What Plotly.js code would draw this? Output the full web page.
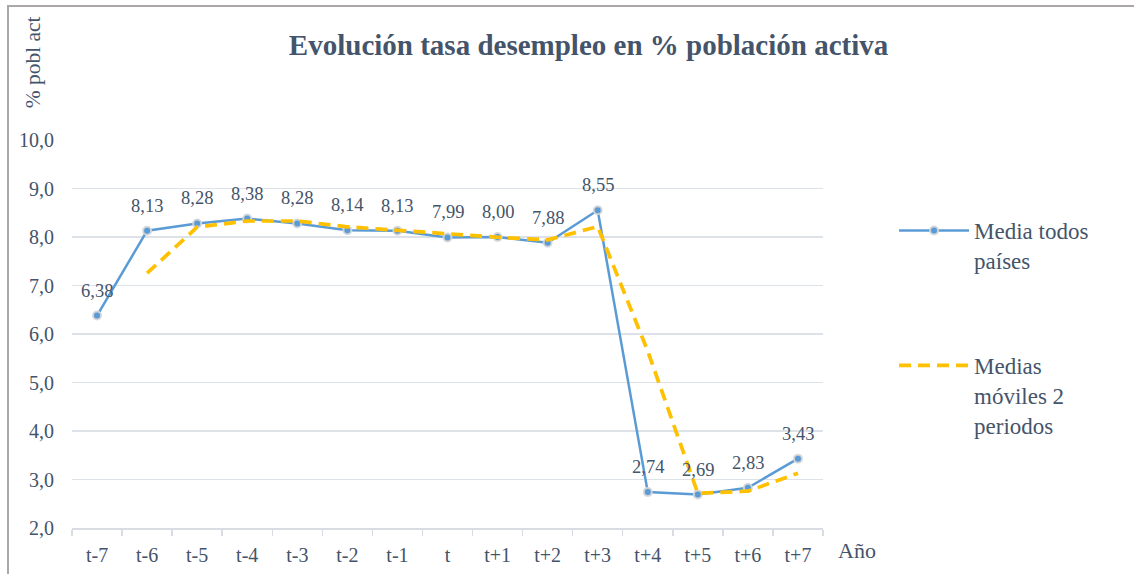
<!DOCTYPE html>
<html>
<head>
<meta charset="utf-8">
<script src="https://cdn.plot.ly/plotly-3.0.1.min.js"></script>
<style>
  html, body { margin: 0; padding: 0; background: #fff; overflow: hidden; }
  #frame { position: absolute; left: 7px; top: 5px; width: 1300px; height: 700px;
           border-left: 2px solid #aba7a7; border-top: 2px solid #aba7a7; }
  #chart { position: absolute; left: 0; top: 0; width: 1134px; height: 574px; }
</style>
</head>
<body>
<div id="frame"></div>
<div id="chart"></div>
<script>
// ---- data ----
const years = ["t-7","t-6","t-5","t-4","t-3","t-2","t-1","t","t+1","t+2","t+3","t+4","t+5","t+6","t+7"];
const mediaTodos = [6.38, 8.13, 8.28, 8.38, 8.28, 8.14, 8.13, 7.99, 8.00, 7.88, 8.55, 2.74, 2.69, 2.83, 3.43];
const mediasMovilesYears = ["t-6","t-5","t-4","t-3","t-2","t-1","t","t+1","t+2","t+3","t+4","t+5","t+6","t+7"];
const mediasMoviles = [7.255, 8.205, 8.33, 8.33, 8.21, 8.135, 8.06, 7.995, 7.94, 8.215, 5.645, 2.715, 2.76, 3.13];
const yTicks = [2, 3, 4, 5, 6, 7, 8, 9, 10];

const txtColor = '#44546a';
const fontFam = 'Liberation Serif, Times New Roman, serif';

const traces = [
  {
    x: years, y: mediaTodos, type: 'scatter', mode: 'lines+markers',
    name: 'Media todos<br>países', legendgroup: 'a',
    line: { color: '#5b9bd5', width: 2.5 },
    marker: { color: '#5b9bd5', size: 8, line: { color: 'rgba(215,215,215,0.9)', width: 2 } },
    hoverinfo: 'skip'
  },
  {
    x: mediasMovilesYears, y: mediasMoviles, type: 'scatter', mode: 'lines',
    name: 'Medias<br>móviles 2<br>periodos', legendgroup: 'b',
    line: { color: '#ffc000', width: 3.7, dash: '12px,7px' },
    hoverinfo: 'skip'
  }
];

const annotations = mediaTodos.map((v, i) => ({
  x: years[i], y: v, xref: 'x', yref: 'y',
  text: v.toFixed(2).replace('.', ','),
  showarrow: false, yshift: 25,
  font: { family: fontFam, size: 18.5, color: txtColor }
}));

annotations.push({
  xref: 'paper', yref: 'paper', x: -0.052, y: 1.2,
  text: '% pobl act', textangle: -90, showarrow: false,
  xanchor: 'center', yanchor: 'middle',
  font: { family: fontFam, size: 21.5, color: txtColor }
});
annotations.push({
  xref: 'paper', yref: 'paper', x: 1.045, y: -0.059,
  text: 'Año', showarrow: false, xanchor: 'center', yanchor: 'middle',
  font: { family: fontFam, size: 22, color: txtColor }
});

const layout = {
  width: 1134, height: 574,
  font: { family: fontFam, color: txtColor },
  paper_bgcolor: 'rgba(0,0,0,0)', plot_bgcolor: 'rgba(0,0,0,0)',
  margin: { l: 72, r: 311, t: 140, b: 46, autoexpand: false },
  title: {
    text: '<b>Evolución tasa desempleo en % población activa</b>',
    x: 0.519, xanchor: 'center', y: 0.922, yanchor: 'middle',
    font: { family: fontFam, size: 29, color: txtColor }
  },
  xaxis: {
    type: 'category', tickson: 'boundaries', range: [-0.5, 14.5], autorange: false,
    ticks: 'outside', ticklen: 6, tickcolor: '#d9dde3', tickwidth: 1.5,
    showline: true, linecolor: '#d9dde3', linewidth: 1.5,
    showgrid: false, zeroline: false, ticklabelstandoff: 8,
    tickfont: { family: fontFam, size: 20, color: txtColor },
    fixedrange: true
  },
  yaxis: {
    range: [2, 10], autorange: false, tickvals: yTicks,
    ticktext: yTicks.map(v => v.toFixed(1).replace('.', ',')),
    ticks: '', showline: false, zeroline: false,
    showgrid: true, gridcolor: '#dde2e8', gridwidth: 1.5,
    ticklabelstandoff: 17,
    tickfont: { family: fontFam, size: 20, color: txtColor },
    fixedrange: true
  },
  showlegend: true,
  legend: {
    x: 1.0946, xanchor: 'left', y: 0.822, yanchor: 'top',
    traceorder: 'grouped', tracegroupgap: 72, valign: 'top',
    itemwidth: 70,
    bgcolor: 'rgba(0,0,0,0)',
    font: { family: fontFam, size: 23, color: txtColor }
  },
  annotations: annotations
};

Plotly.newPlot('chart', traces, layout, { displayModeBar: false, staticPlot: true });
</script>
</body>
</html>
